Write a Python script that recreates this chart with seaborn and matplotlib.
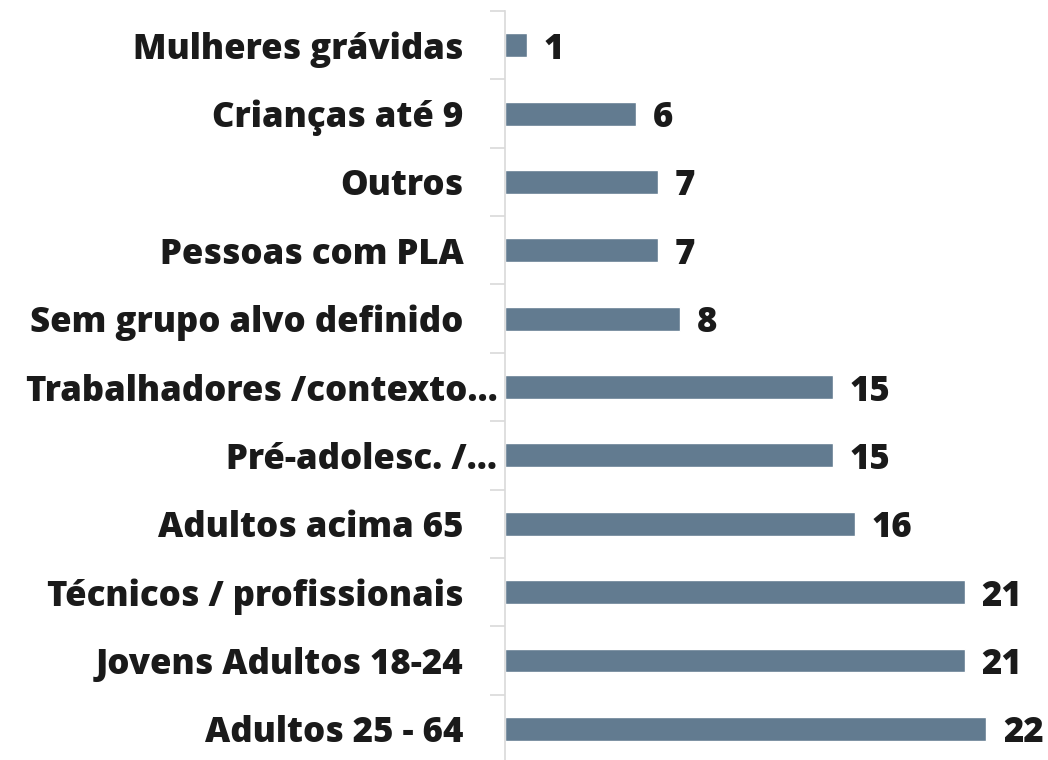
import matplotlib
matplotlib.use("Agg")
import matplotlib.pyplot as plt
import matplotlib.transforms as mtransforms
import seaborn as sns
import pandas as pd
import numpy as np

categories = [
    "Mulheres grávidas",
    "Crianças até 9",
    "Outros",
    "Pessoas com PLA",
    "Sem grupo alvo definido",
    "Trabalhadores /contexto...",
    "Pré-adolesc. /...",
    "Adultos acima 65",
    "Técnicos / profissionais",
    "Jovens Adultos 18-24",
    "Adultos 25 - 64",
]
values = [1, 6, 7, 7, 8, 15, 15, 16, 21, 21, 22]

df = pd.DataFrame({"grupo": categories, "n": values})

sns.set_theme(style="white")
plt.rcParams["font.family"] = ["Open Sans", "DejaVu Sans"]

fig = plt.figure(figsize=(10.48, 7.6), dpi=100)
ax = fig.add_axes([0.482, -0.004, 0.501, 0.9895])

sns.barplot(data=df, y="grupo", x="n", orient="h", color="#627b90",
            saturation=1, width=0.35, ax=ax)

labels = ax.bar_label(ax.containers[0], padding=12, fontsize=25,
                      fontweight="heavy", color="#1a1a1a")
for t in labels:
    t.set_va("center_baseline")

ax.set_xlim(0, 24)
ax.set_ylim(len(categories) - 0.5, -0.5)
ax.set_xlabel("")
ax.set_ylabel("")
ax.set_xticks([])

for s in ["top", "right", "bottom"]:
    ax.spines[s].set_visible(False)
ax.spines["left"].set_color("#d9d9d9")
ax.spines["left"].set_linewidth(1.2)

ax.tick_params(axis="y", which="major", length=0, pad=30,
               labelsize=25, labelcolor="#1a1a1a")
# truncated labels sit closer to the axis (no trailing space)
shift = mtransforms.ScaledTranslation(0.34, 0, fig.dpi_scale_trans)
for lab in ax.get_yticklabels():
    lab.set_fontweight("heavy")
    if lab.get_text().endswith("..."):
        lab.set_transform(lab.get_transform() + shift)
ax.set_yticks(np.arange(len(categories)) - 0.5, minor=True)
ax.tick_params(axis="y", which="minor", length=11, width=1.2, color="#d9d9d9", left=True)

fig.savefig("out.png", dpi=100)
